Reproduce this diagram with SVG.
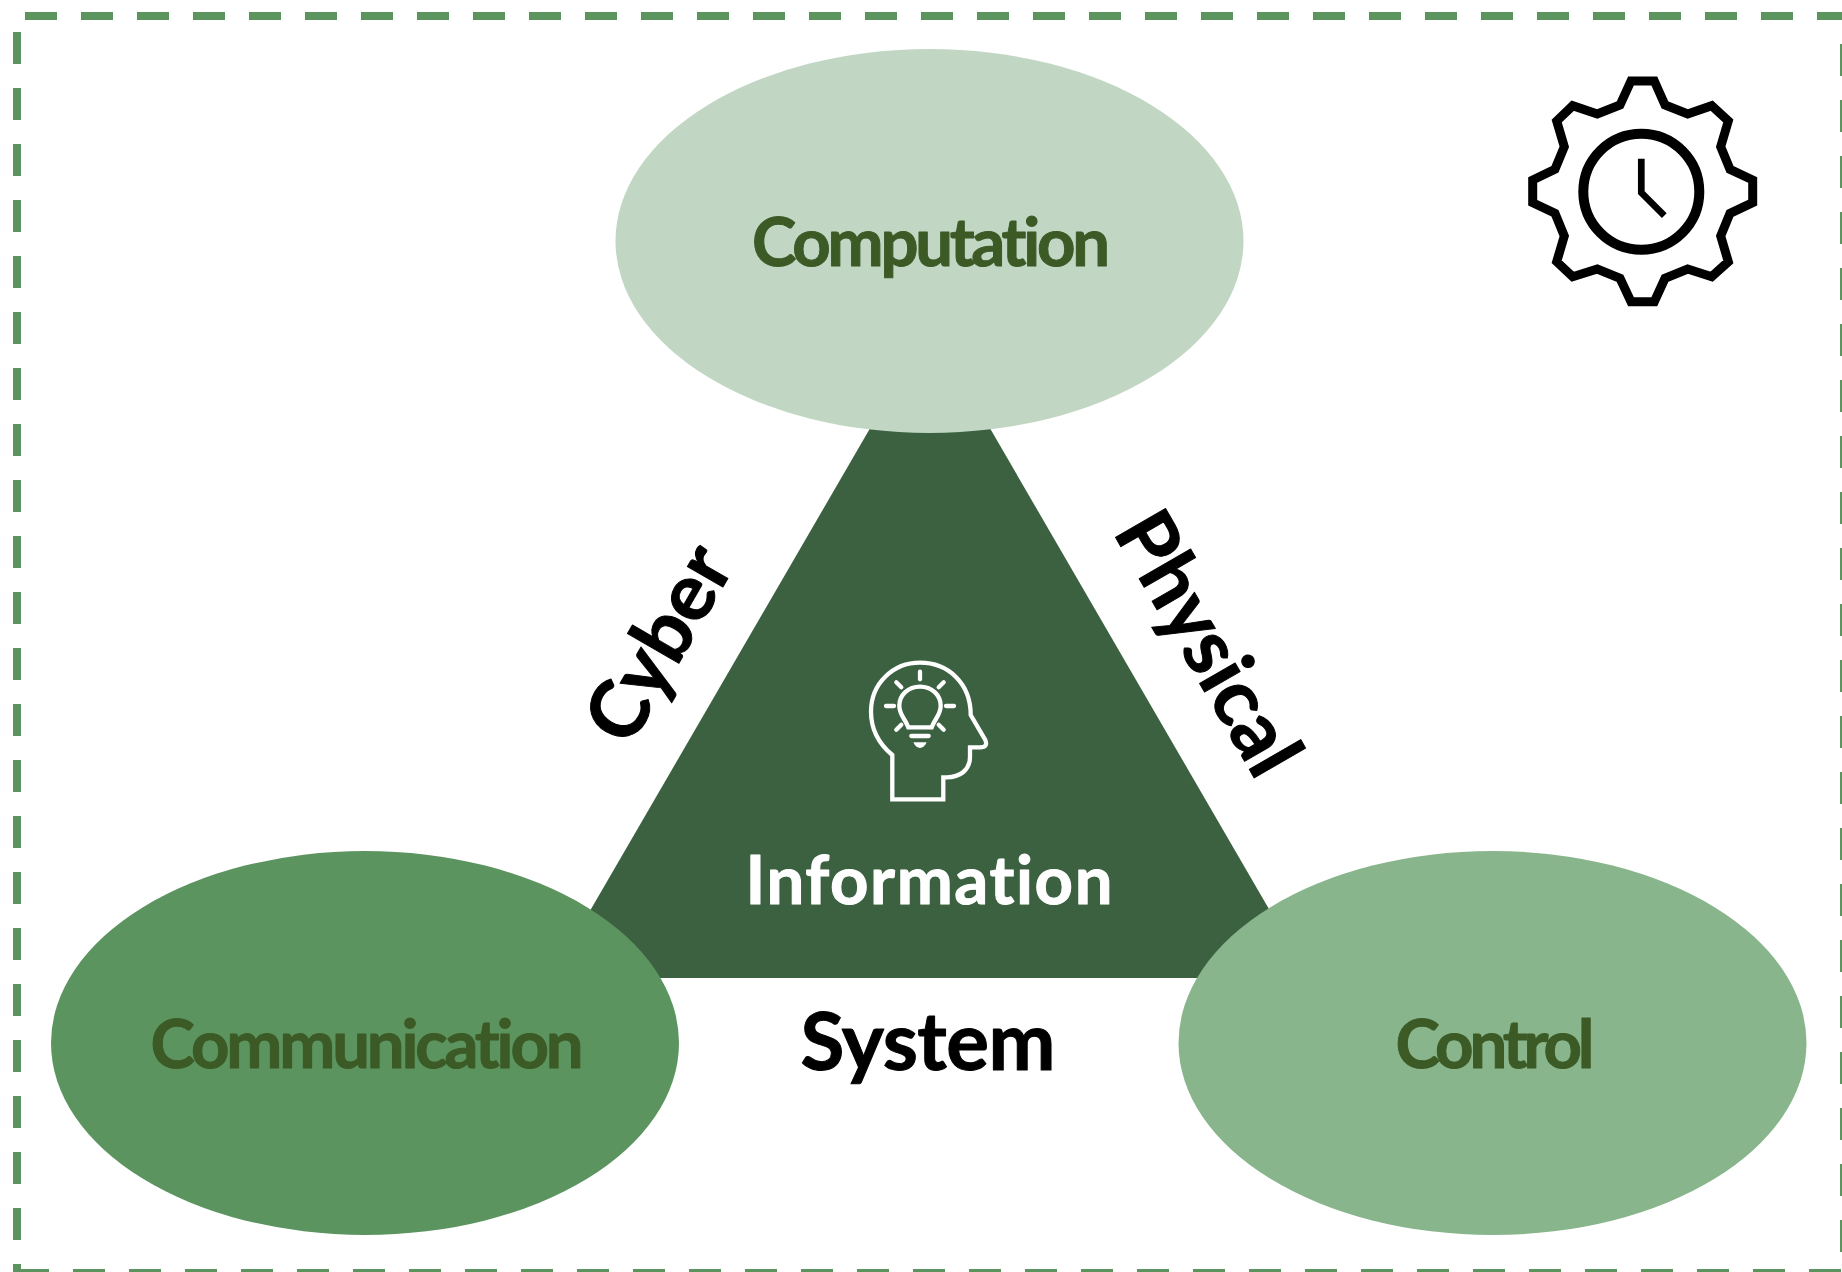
<svg xmlns="http://www.w3.org/2000/svg" width="1842" height="1272" viewBox="0 0 1842 1272">
<style>
text{font-family:"Lato","Carlito","Open Sans",sans-serif;font-weight:700;text-anchor:middle;font-variant-ligatures:none;stroke-linejoin:round}
.lbl{fill:#3c5a25;stroke:#3c5a25;stroke-width:1px;font-size:67px}
.blk{fill:#000;stroke:#000;stroke-width:1px;font-size:80px}
.dash{stroke:#5c9460;stroke-width:8;stroke-dasharray:32 24;fill:none}
.ico{fill:none;stroke:#fff;stroke-width:4.3;stroke-linecap:round;stroke-linejoin:miter}
</style>
<rect width="1842" height="1272" fill="#fff"/>
<g id="border">
<path class="dash" d="M25 16H1844"/>
<path class="dash" d="M1844 44V1272"/>
<path class="dash" d="M1841 1273H17"/>
<path class="dash" d="M17 32V1273"/>
</g>
<g id="triangle"><polygon points="930,325 1309,978 551,978" fill="#3c6140"/></g>
<g id="computation"><ellipse cx="929.500" cy="241" rx="314" ry="192" fill="#c1d7c4"/><text class="lbl" x="931" y="266" textLength="358">Computation</text></g>
<g id="communication"><ellipse cx="365" cy="1043" rx="314" ry="192" fill="#5c9460"/><text class="lbl" x="367" y="1068" textLength="433">Communication</text></g>
<g id="control"><ellipse cx="1492.500" cy="1043" rx="314" ry="192" fill="#88b58c"/><text class="lbl" x="1495" y="1068" textLength="199">Control</text></g>
<g id="information"><text x="929" y="904" font-size="67" fill="#fff" stroke="#fff" stroke-width="1" textLength="367">Information</text>
<g id="head-icon">
<path class="ico" d="M892.300 799.300V755C878.300 743.300 871 728.300 871 711.700C871 683.300 893.300 662.700 920 662.700C948.300 662.700 970.700 683.300 970.700 715L985.300 740Q988.300 747.300 980 747.300H970V756.700C970 770 960 777.300 946.700 777.300H943.300V799.300Z"/>
<path class="ico" d="M908.300 727.300C905 718.300 899.300 715 899.300 705.700C899.300 695 908.300 686.700 920 686.700C931.700 686.700 940.700 695 940.700 705.700C940.700 715 935 718.300 931.700 727.300Z"/>
<path class="ico" d="M911.300 736H928.700M920 671.700V679.300M896.300 682.300L901.300 687.300M943.700 682.300L938.700 687.300M886 706H894M946 706H954M896.300 729.700L901.300 724.700M943.700 729.700L938.700 724.700"/>
<path d="M913.300 742.300H926.700Q924 748 920 748Q916 748 913.300 742.300Z" fill="#fff"/>
</g></g>
<g id="system"><text class="blk" x="928" y="1070" textLength="255">System</text></g>
<g id="cyber"><text class="blk" transform="translate(660 644) rotate(-60)" x="0" y="26">Cyber</text></g>
<g id="physical"><text class="blk" transform="translate(1207 644) rotate(60)" x="0" y="26">Physical</text></g>
<g id="gear-clock" fill="none" stroke="#000">
<polygon stroke-width="9" points="1631,81 1654.300,81 1665,105 1687.700,114 1711.700,105.700 1728.300,121 1720.700,146.700 1730,169.300 1752.700,180 1752.700,202.700 1730,213.300 1720.700,236 1728.300,261.700 1711.700,276.700 1687.700,269 1665,278.300 1654.300,301.700 1631,301.700 1620,278.300 1597.300,269 1572.700,276.700 1556.700,261.700 1564.300,236 1555,213.300 1532.700,202.700 1532.700,180 1555,169.300 1564.300,146.700 1556.700,121 1572.700,105.700 1597.300,114 1620,105"/>
<circle cx="1641.300" cy="191.700" r="58" stroke-width="10"/>
<path d="M1641.300 158.700V192.700L1664.300 215.700" stroke-width="6.700"/>
</g>
</svg>
